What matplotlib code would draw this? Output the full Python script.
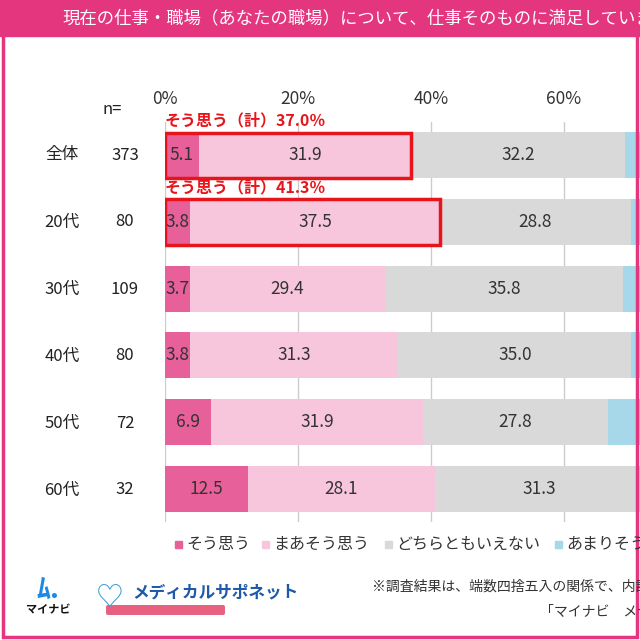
import matplotlib
matplotlib.use("Agg")
import matplotlib.pyplot as plt
from matplotlib.patches import Rectangle, FancyBboxPatch

plt.rcParams['font.family'] = ['Noto Sans CJK JP', 'DejaVu Sans']

groups = ["全体", "20代", "30代", "40代", "50代", "60代"]
ns = [373, 80, 109, 80, 72, 32]
s1 = [5.1, 3.8, 3.7, 3.8, 6.9, 12.5]
s2 = [31.9, 37.5, 29.4, 31.3, 31.9, 28.1]
s3 = [32.2, 28.8, 35.8, 35.0, 27.8, 31.3]
s4 = [20.6, 20.0, 21.1, 20.0, 22.2, 18.8]
s5 = [10.2, 10.0, 10.0, 10.0, 11.1, 9.4]
labels = ["そう思う", "まあそう思う", "どちらともいえない", "あまりそう思わない", "そう思わない"]
colors = ["#e8609a", "#f7c6dc", "#d9d9d9", "#a6d8ea", "#5aa6d4"]
sums = [37.0, 41.3]

fig = plt.figure(figsize=(6.4, 6.4), dpi=100)
W = H = 640.0
def fx(x): return x / W
def fy(y): return 1 - y / H

fig.patches.append(Rectangle((0.004, 0.004), 0.992, 0.992, transform=fig.transFigure,
                             fill=False, ec="#e4357f", lw=2.5))
fig.patches.append(Rectangle((0, fy(36)), 1, 36 / H, transform=fig.transFigure,
                             color="#e4357f"))
fig.text(fx(62), fy(18), "現在の仕事・職場（あなたの職場）について、仕事そのものに満足していますか",
         color="white", fontsize=12.5, va="center", ha="left")

ax = fig.add_axes([fx(165), fy(522), 665 / W, (522 - 122) / H])
data = [s1, s2, s3, s4, s5]
ypos = list(range(len(groups)))
left = [0] * len(groups)
for k, (vals, c) in enumerate(zip(data, colors)):
    ax.barh(ypos, vals, left=left, color=c, height=0.69, label=labels[k], zorder=2)
    if k < 3:
        for i, v in enumerate(vals):
            ax.text(left[i] + v / 2, i, f"{v:.1f}", ha="center", va="center",
                    fontsize=12.5, color="#333333", zorder=3)
    left = [l + v for l, v in zip(left, vals)]

ax.set_xlim(0, 100)
ax.set_ylim(len(groups) - 0.5, -0.5)
ax.set_xticks([0, 20, 40, 60])
ax.set_xticklabels(["0%", "20%", "40%", "60%"], fontsize=12.5, color="#333333")
ax.xaxis.tick_top()
ax.tick_params(axis="x", length=0, pad=10)
ax.set_yticks([])
ax.grid(axis="x", color="#cccccc", lw=1, zorder=0)
for sp in ax.spines.values():
    sp.set_visible(False)

for i, sm in enumerate(sums):
    ax.add_patch(Rectangle((0, i - 0.34), sm, 0.68, fill=False, ec="#e8141b", lw=2.5, zorder=4))
    ax.text(0, i - 0.40, f"そう思う（計）{sm:.1f}％", color="#e8141b", fontsize=11.5,
            fontweight="bold", ha="left", va="bottom", zorder=4)

for i, (g, n) in enumerate(zip(groups, ns)):
    yy = 155 + i * 67
    fig.text(fx(62), fy(yy), g, fontsize=12, ha="center", va="center", color="#222222")
    fig.text(fx(125), fy(yy), str(n), fontsize=12, ha="center", va="center", color="#222222")
fig.text(fx(112), fy(110), "n=", fontsize=12, ha="center", va="center", color="#222222")

lx = [175, 262, 385, 555]
for x0, lab, c in zip(lx, labels[:4], colors[:4]):
    fig.patches.append(Rectangle((fx(x0), fy(548)), 7 / W, 7 / H, transform=fig.transFigure, color=c))
    fig.text(fx(x0 + 11), fy(544), lab, fontsize=11.5, va="center", ha="left", color="#333333")

fig.text(fx(48), fy(590), "ﾑ.", fontsize=20, color="#1e88e5", ha="center", va="center", fontweight="bold")
fig.text(fx(48), fy(610), "マイナビ", fontsize=8, color="#111111", ha="center", va="center", fontweight="bold")
fig.text(fx(110), fy(598), "♡", fontsize=20, color="#3aa0d8", ha="center", va="center")
fig.text(fx(132), fy(592), "メディカルサポネット", fontsize=12, color="#1e5aa8", ha="left", va="center", fontweight="bold")
fig.patches.append(FancyBboxPatch((fx(108), fy(613)), 115 / W, 6 / H, boxstyle="round,pad=0.002",
                                  transform=fig.transFigure, color="#e8607f"))
fig.text(fx(372), fy(587), "※調査結果は、端数四捨五入の関係で、内訳の合計が100％にならない場合があります",
         fontsize=10, ha="left", va="center", color="#333333")
fig.text(fx(540), fy(612), "「マイナビ　メディカルサポネット」調べ", fontsize=10, ha="left", va="center", color="#333333")

fig.savefig("out.png", dpi=100)
